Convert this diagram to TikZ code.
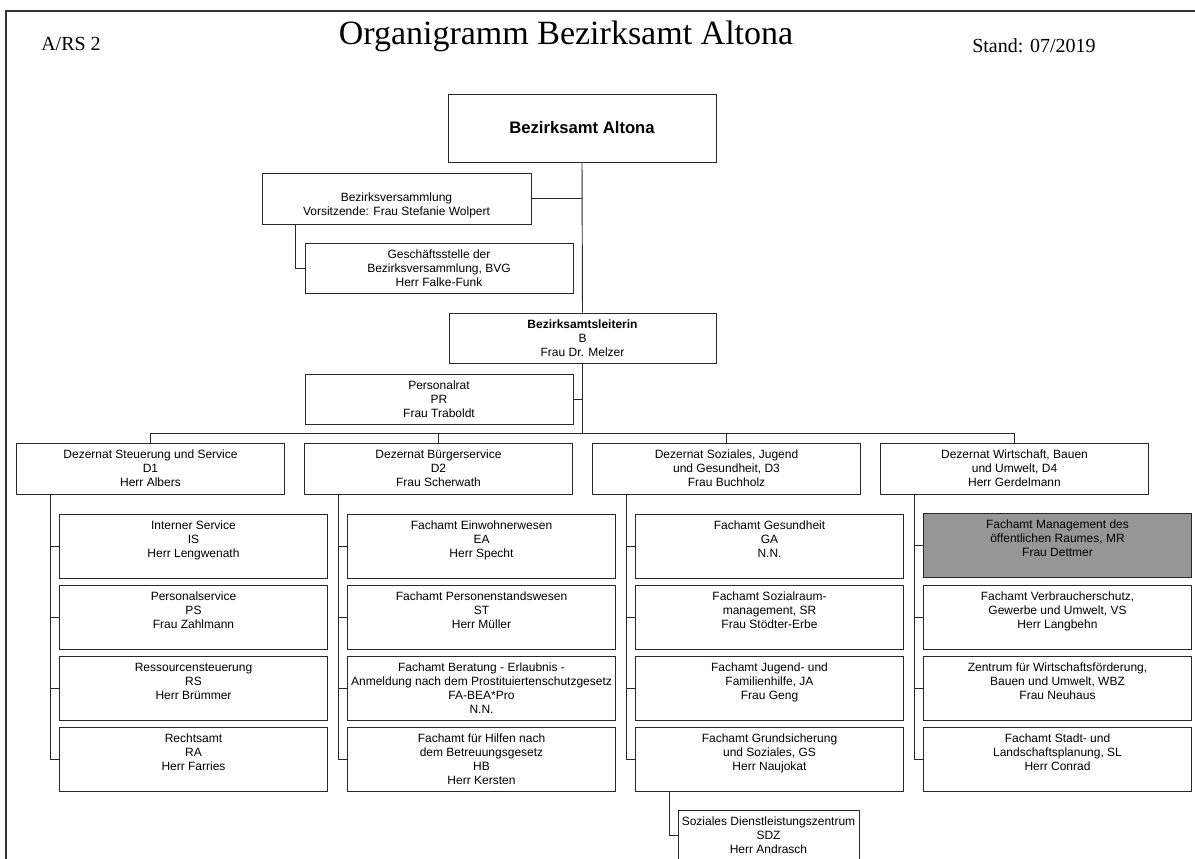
\documentclass[tikz,border=0pt]{standalone}
\usepackage{fontspec}
\setmainfont{Liberation Sans}
\newfontfamily\titleserif{Liberation Serif}
\definecolor{mrgray}{RGB}{150,150,150}
\definecolor{linec}{RGB}{40,40,40}
\begin{document}
\begin{tikzpicture}[x=0.75pt,y=-0.75pt,
  box/.style={draw=linec, line width=0.7pt, fill=white, align=center, inner sep=0pt,
    font=\fontsize{9}{10.4}\selectfont},
  topbox/.style={box, minimum width=201pt, minimum height=38pt},
  dbox/.style={box, minimum width=200.5pt, minimum height=38.25pt},
  subbox/.style={box, minimum width=200.5pt, minimum height=48pt},
  conn/.style={draw=linec, line width=0.7pt},
  hdr/.style={inner sep=0pt, font=\titleserif\fontsize{15}{18}\selectfont}
]
\useasboundingbox (0,0) rectangle (1195,858);
% frame
\draw[line width=1.5pt, black!80] (6,880) -- (6,11) -- (1210,11);

% header
\node[hdr, anchor=base west] (ars) at (41,50) {A/RS 2};
\node[inner sep=0pt, anchor=base, font=\titleserif\fontsize{25.5}{30}\selectfont] (title) at (566,44) {Organigramm Bezirksamt Altona};
\node[hdr, anchor=base west] (stand) at (972,52) {Stand: 07/2019};

% top part
\node[box, minimum width=201pt, minimum height=51pt, font=\bfseries\fontsize{12.5}{15}\selectfont] (ba) at (582,128) {Bezirksamt Altona};
\node[box, minimum width=201.75pt, minimum height=38.25pt, text height=27pt] (bv) at (396.5,198.5) {Bezirksversammlung\\Vorsitzende: Frau Stefanie Wolpert};
\node[topbox, minimum height=37.5pt] (gs) at (439,268) {Geschäftsstelle der\\Bezirksversammlung, BVG\\Herr Falke-Funk};
\node[topbox, minimum width=200.25pt, minimum height=37.5pt] (bl) at (582.5,338) {\textbf{Bezirksamtsleiterin}\\B\\Frau Dr. Melzer};
\node[topbox, minimum height=37.5pt] (pr) at (439,399) {Personalrat\\PR\\Frau Traboldt};

% Dezernate
\node[dbox] (d1) at (150.5,468.5) {Dezernat Steuerung und Service\\D1\\Herr Albers};
\node[dbox] (d2) at (438.5,468.5) {Dezernat Bürgerservice\\D2\\Frau Scherwath};
\node[dbox] (d3) at (726.5,468.5) {Dezernat Soziales, Jugend\\und Gesundheit, D3\\Frau Buchholz};
\node[dbox] (d4) at (1014.5,468.5) {Dezernat Wirtschaft, Bauen\\und Umwelt, D4\\Herr Gerdelmann};

% column 1
\node[subbox] (s11) at (193.5,546) {Interner Service\\IS\\Herr Lengwenath\\\mbox{}};
\node[subbox] (s12) at (193.5,617) {Personalservice\\PS\\Frau Zahlmann\\\mbox{}};
\node[subbox] (s13) at (193.5,688) {Ressourcensteuerung\\RS\\Herr Brümmer\\\mbox{}};
\node[subbox] (s14) at (193.5,759) {Rechtsamt\\RA\\Herr Farries\\\mbox{}};
% column 2
\node[subbox] (s21) at (481.5,546) {Fachamt Einwohnerwesen\\EA\\Herr Specht\\\mbox{}};
\node[subbox] (s22) at (481.5,617) {Fachamt Personenstandswesen\\ST\\Herr Müller\\\mbox{}};
\node[subbox] (s23) at (481.5,688) {Fachamt Beratung - Erlaubnis -\\Anmeldung nach dem Prostituiertenschutzgesetz\\FA-BEA*Pro\\N.N.};
\node[subbox] (s24) at (481.5,759) {Fachamt für Hilfen nach\\dem Betreuungsgesetz\\HB\\Herr Kersten};
% column 3
\node[subbox] (s31) at (769.5,546) {Fachamt Gesundheit\\GA\\N.N.\\\mbox{}};
\node[subbox] (s32) at (769.5,617) {Fachamt Sozialraum-\\management, SR\\Frau Stödter-Erbe\\\mbox{}};
\node[subbox] (s33) at (769.5,688) {Fachamt Jugend- und\\Familienhilfe, JA\\Frau Geng\\\mbox{}};
\node[subbox] (s34) at (769.5,759) {Fachamt Grundsicherung\\und Soziales, GS\\Herr Naujokat\\\mbox{}};
% column 4
\node[subbox, fill=mrgray] (s41) at (1057.5,545) {Fachamt Management des\\öffentlichen Raumes, MR\\Frau Dettmer\\\mbox{}};
\node[subbox] (s42) at (1057.5,617) {Fachamt Verbraucherschutz,\\Gewerbe und Umwelt, VS\\Herr Langbehn\\\mbox{}};
\node[subbox] (s43) at (1057.5,688) {Zentrum für Wirtschaftsförderung,\\Bauen und Umwelt, WBZ\\Frau Neuhaus\\\mbox{}};
\node[subbox] (s44) at (1057.5,759) {Fachamt Stadt- und\\Landschaftsplanung, SL\\Herr Conrad\\\mbox{}};

\node[box, minimum width=135.75pt, minimum height=37.5pt] (sdz) at (768.5,835) {Soziales Dienstleistungszentrum\\SDZ\\Herr Andrasch};

% connectors
\coordinate (bus) at (582.5,433);
\path[conn] (ba.south) -- (bl.north);
\path[conn] (bl.south) -- (bus);
\path[conn] (bv.east) -- (bv.east -| ba.south);
\path[conn] (pr.east) -- (pr.east -| bl.south);
\path[conn] ([xshift=-76.1pt]bv.south) |- (gs.west);
\path[conn] (d1.north) |- (bus);
\path[conn] (bus) -| (d4.north);
\path[conn] (d2.north) -- (d2.north |- bus);
\path[conn] (d3.north) -- (d3.north |- bus);
\foreach \c in {1,2,3,4}{
  \foreach \r in {1,2,3,4}{
    \path[conn] ([xshift=-75.4pt]d\c.south) |- (s\c\r.west);
  }
}
\path[conn] ([xshift=-75.4pt]s34.south) |- (sdz.west);
\end{tikzpicture}
\end{document}
